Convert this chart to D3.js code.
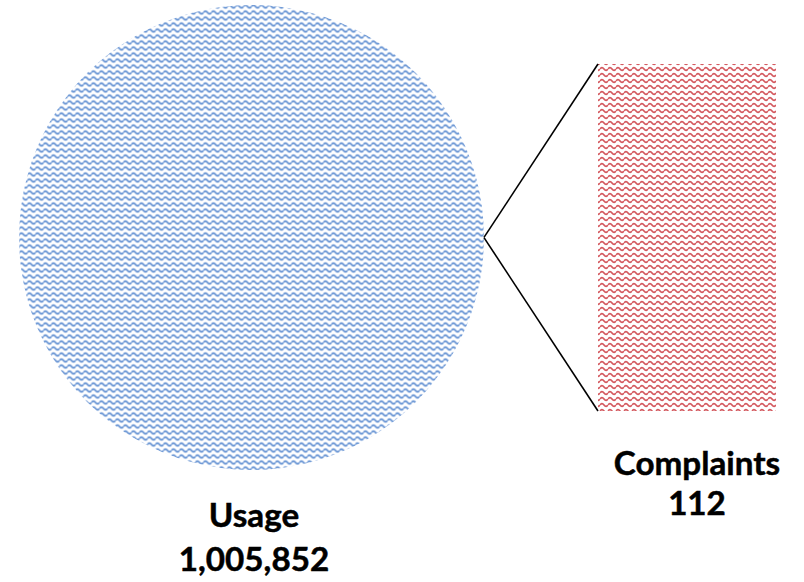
<!DOCTYPE html>
<html>
<head>
<meta charset="utf-8">
<script src="https://cdn.jsdelivr.net/npm/d3@7"></script>
<style>
  html, body { margin: 0; padding: 0; background: #fff; }
  svg { display: block; }
  .lbl { font-family: Lato, "Open Sans", "Liberation Sans", sans-serif; font-weight: 700; fill: #000; stroke: #000; stroke-width: 0.5px; }
</style>
</head>
<body>
<svg id="chart" width="804" height="582"></svg>
<script>
// Pie-of-bar: the pie holds both parts, the bar breaks out the small one.
const categories = ["Usage", "Complaints"];
const values = [1005852, 112];
const valueLabels = ["1,005,852", "112"];
const barCategories = ["Complaints"];
const barValues = [112];

const svg = d3.select("#chart");

// Wave hatch fills
const defs = svg.append("defs");
function wavePattern(id, color) {
  const p = defs.append("pattern")
    .attr("id", id)
    .attr("patternUnits", "userSpaceOnUse")
    .attr("width", 8)
    .attr("height", 6);
  p.append("path")
    .attr("d", "M0,3 Q2,0.4 4,3 T8,3")
    .attr("fill", "none")
    .attr("stroke", color)
    .attr("stroke-width", 1.7);
}
wavePattern("waveBlue", "#5b8bd0");
wavePattern("waveRed", "#d45a60");

// Pie
const cx = 251.5, cy = 237.5, r = 232.5;
const total = d3.sum(values);
const smallAngle = values[1] / total * 2 * Math.PI;
const start = Math.PI / 2 + smallAngle / 2;
const pie = d3.pie()
  .sort(null)
  .value(d => d)
  .startAngle(start)
  .endAngle(start + 2 * Math.PI);
const arcs = pie(values);
const arc = d3.arc().innerRadius(0).outerRadius(r);

const pieG = svg.append("g").attr("transform", `translate(${cx},${cy})`);
pieG.selectAll("path")
  .data(arcs)
  .join("path")
  .attr("d", arc)
  .attr("fill", (d, i) => i === 0 ? "url(#waveBlue)" : "url(#waveRed)");

// Bar
const barX = d3.scaleBand().domain(barCategories).range([598, 776]).padding(0);
const barY = d3.scaleLinear().domain([0, d3.sum(barValues)]).range([411, 64]);
svg.append("g").selectAll("rect")
  .data(barValues)
  .join("rect")
  .attr("x", (d, i) => barX(barCategories[i]))
  .attr("width", barX.bandwidth())
  .attr("y", d => barY(d))
  .attr("height", d => barY(0) - barY(d))
  .attr("fill", "url(#waveRed)");

// Connector lines from the small slice to the bar corners
const sa = arcs[1].startAngle, ea = arcs[1].endAngle;
const p1 = [cx + r * Math.sin(sa), cy - r * Math.cos(sa)];
const p2 = [cx + r * Math.sin(ea), cy - r * Math.cos(ea)];
const bx = barX(barCategories[0]);
svg.append("line")
  .attr("x1", p1[0]).attr("y1", p1[1])
  .attr("x2", bx).attr("y2", barY(d3.sum(barValues)))
  .attr("stroke", "#000").attr("stroke-width", 1.6);
svg.append("line")
  .attr("x1", p2[0]).attr("y1", p2[1])
  .attr("x2", bx).attr("y2", barY(0))
  .attr("stroke", "#000").attr("stroke-width", 1.6);

// Label size: pick the font size that gives the intended text widths
const probe = svg.append("text").attr("class", "lbl").style("font-size", "100px");
const widthAt100 = s => { probe.text(s); return probe.node().getComputedTextLength(); };
const targets = [["Usage", 88], ["1,005,852", 149], ["Complaints", 172]];
const fontSize = d3.mean(targets, ([s, w]) => w / widthAt100(s) * 100);
probe.remove();

// Labels (the bar label sits a little right of the bar centre)
const lbl = svg.append("g");
function label(x, y, lines, gap) {
  const t = lbl.append("text").attr("class", "lbl").attr("text-anchor", "middle")
    .style("font-size", fontSize + "px");
  lines.forEach((s, i) => t.append("tspan").attr("x", x).attr("y", y + i * gap).text(s));
}
label(cx + 2.5, 527, [categories[0], valueLabels[0]], 44);
label(barX(barCategories[0]) + barX.bandwidth() / 2 + 10, 475, [categories[1], valueLabels[1]], 40);
</script>
</body>
</html>
